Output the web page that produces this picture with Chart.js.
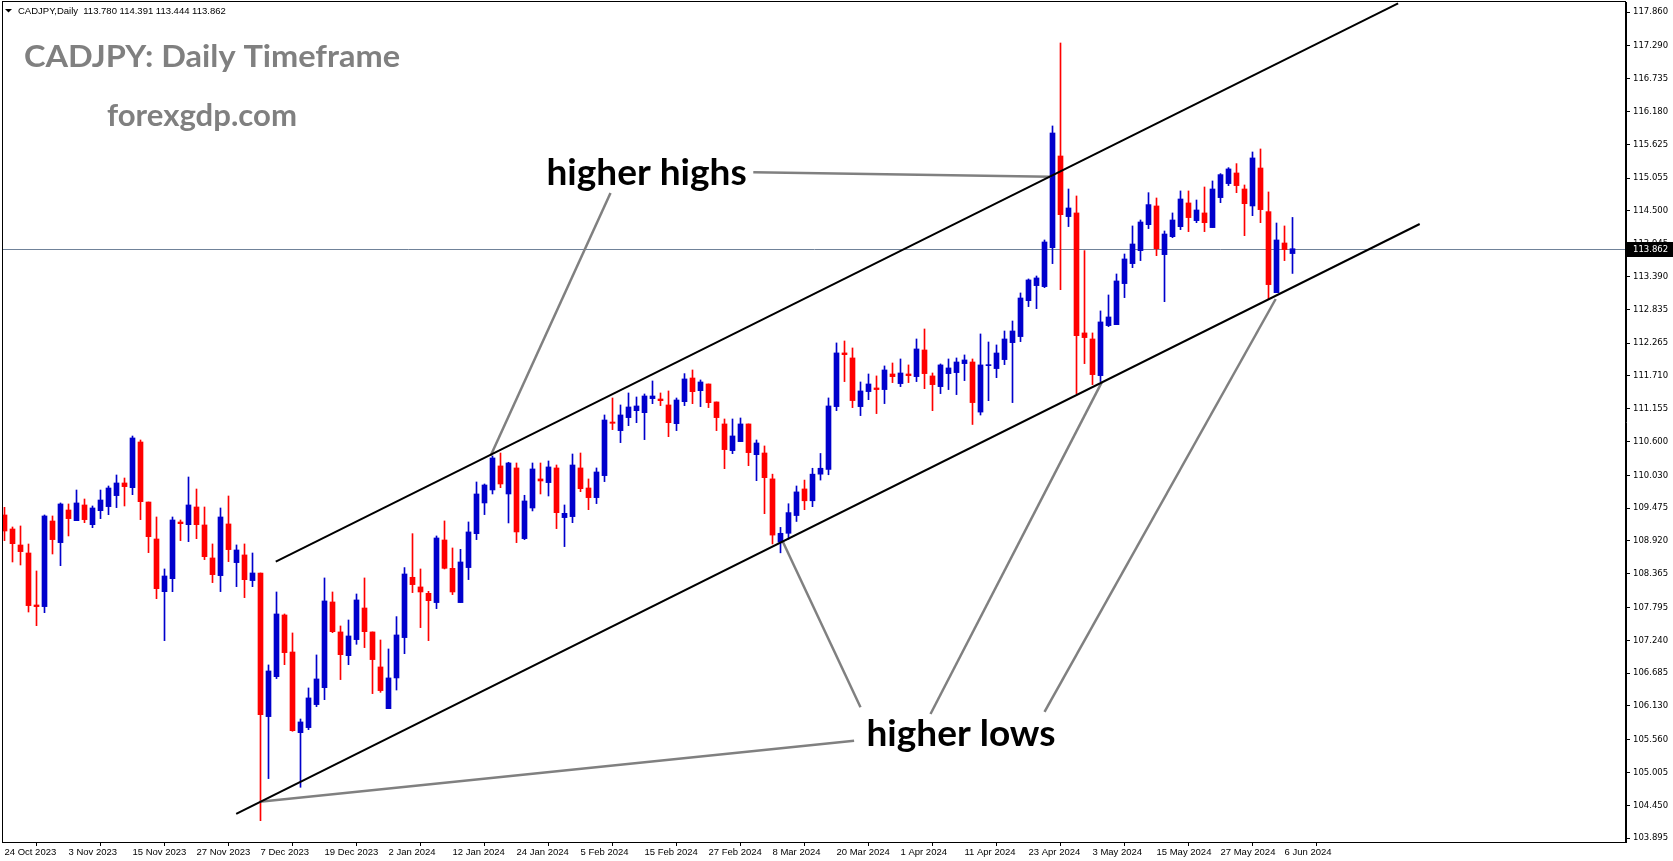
<!DOCTYPE html>
<html>
<head>
<meta charset="utf-8">
<title>CADJPY Daily</title>
<script src="https://cdn.jsdelivr.net/npm/chart.js@4.4.1/dist/chart.umd.min.js"></script>
<style>
  html, body { margin: 0; padding: 0; background: #fff; }
  #wrap { width: 1673px; height: 861px; }
</style>
</head>
<body>
<div id="wrap"><canvas id="chart" width="1673" height="861"></canvas></div>
<script>
// daily candles, 24 Oct 2023 .. 7 Jun 2024 (one entry per bar)
const opens = [
  109.360, 109.123, 108.852, 108.717, 107.838, 107.810, 109.258, 108.892, 109.444, 109.264,
  109.529, 109.196, 109.433, 109.501, 109.687, 109.901, 109.822, 110.594, 109.579, 108.954,
  108.063, 108.283, 109.241, 109.196, 109.495, 109.191, 108.633, 108.334, 109.208, 108.554,
  108.684, 108.250, 108.379, 105.950, 106.626, 107.669, 107.043, 105.679, 105.764, 106.153,
  106.440, 107.889, 107.382, 106.981, 107.252, 107.787, 107.382, 106.790, 106.085, 106.604,
  107.286, 108.306, 108.143, 108.035, 107.878, 108.937, 108.458, 107.878, 108.470, 109.044,
  109.563, 109.783, 110.189, 109.715, 110.155, 108.960, 109.478, 109.969, 109.907, 110.155,
  109.315, 109.332, 110.155, 109.816, 109.653, 110.025, 110.932, 110.786, 111.006, 111.124,
  111.090, 111.327, 111.321, 111.220, 110.904, 111.276, 111.676, 111.462, 111.575, 111.271,
  110.899, 110.448, 110.600, 110.899, 110.380, 110.408, 109.970, 108.900, 109.050, 109.350,
  109.800, 109.600, 110.050, 110.130, 111.192, 112.100, 112.015, 111.192, 111.446, 111.508,
  111.480, 111.744, 111.581, 111.744, 111.699, 112.150, 111.711, 111.530, 111.750, 111.767,
  111.919, 111.947, 111.100, 111.885, 111.835, 111.987, 112.274, 112.376, 112.984, 113.238,
  113.221, 113.880, 115.430, 114.405, 114.467, 112.438, 112.336, 111.716, 112.562, 112.578,
  113.272, 113.610, 113.830, 114.269, 114.585, 113.762, 114.066, 114.235, 114.636, 114.337,
  114.467, 114.219, 114.726, 114.963, 115.143, 114.872, 114.585, 115.227, 114.489, 113.119,
  113.959, 113.780
];
const highs = [
  109.489, 109.157, 109.174, 108.869, 108.413, 109.360, 109.343, 109.563, 109.546, 109.782,
  109.630, 109.512, 109.782, 109.850, 110.036, 109.985, 110.695, 110.628, 109.579, 109.326,
  108.447, 109.326, 109.275, 110.002, 109.799, 109.495, 108.870, 109.478, 109.681, 108.853,
  108.870, 108.717, 108.379, 106.824, 108.058, 107.686, 107.365, 105.910, 106.435, 106.993,
  108.295, 108.058, 107.483, 107.584, 108.024, 108.295, 107.382, 107.246, 107.094, 107.641,
  108.470, 109.044, 108.447, 108.069, 109.005, 109.259, 108.802, 108.779, 109.242, 109.918,
  109.884, 110.358, 110.408, 110.251, 110.239, 109.693, 110.239, 110.239, 110.273, 110.205,
  109.529, 110.391, 110.408, 109.969, 110.155, 111.051, 111.338, 111.220, 111.423, 111.355,
  111.406, 111.626, 111.423, 111.457, 111.338, 111.750, 111.812, 111.643, 111.575, 111.271,
  110.983, 110.983, 111.000, 110.899, 110.628, 110.527, 110.050, 109.150, 109.550, 109.850,
  109.950, 110.150, 110.400, 111.339, 112.269, 112.302, 112.184, 111.609, 111.744, 111.711,
  111.880, 111.930, 111.998, 111.897, 112.336, 112.505, 111.761, 111.914, 111.998, 112.015,
  112.066, 111.998, 112.421, 112.285, 112.235, 112.471, 112.640, 113.114, 113.351, 113.401,
  114.010, 115.938, 117.341, 114.872, 114.754, 113.830, 112.438, 112.810, 113.080, 113.435,
  113.773, 114.247, 114.348, 114.810, 114.720, 114.162, 114.467, 114.839, 114.839, 114.686,
  114.906, 115.008, 115.132, 115.233, 115.301, 114.940, 115.498, 115.549, 114.822, 114.297,
  114.247, 114.391
];
const lows = [
  108.926, 108.565, 108.514, 107.719, 107.488, 107.708, 108.700, 108.503, 109.005, 109.264,
  109.230, 109.145, 109.298, 109.365, 109.484, 109.512, 109.703, 109.281, 108.723, 107.945,
  107.235, 108.063, 108.926, 108.909, 108.959, 108.605, 108.216, 108.064, 108.571, 108.148,
  107.962, 108.148, 104.191, 104.902, 106.593, 106.829, 105.702, 104.755, 105.730, 106.119,
  106.237, 107.370, 106.576, 106.829, 107.173, 107.117, 106.339, 106.361, 106.085, 106.400,
  107.015, 108.047, 107.455, 107.235, 107.776, 108.447, 108.013, 107.878, 108.267, 108.943,
  109.366, 109.715, 109.822, 109.225, 108.892, 108.943, 109.428, 109.715, 109.681, 109.129,
  108.825, 109.230, 109.754, 109.450, 109.552, 109.924, 110.803, 110.583, 110.870, 110.921,
  110.634, 111.242, 111.209, 110.684, 110.786, 111.209, 111.242, 111.192, 111.175, 110.786,
  110.143, 110.397, 110.600, 110.194, 109.940, 109.382, 108.870, 108.720, 108.950, 109.250,
  109.450, 109.500, 109.950, 110.040, 111.124, 111.615, 111.175, 111.040, 111.310, 111.074,
  111.243, 111.598, 111.530, 111.598, 111.615, 111.496, 111.124, 111.412, 111.480, 111.395,
  111.632, 110.890, 111.050, 111.293, 111.682, 111.902, 111.260, 112.291, 112.883, 112.849,
  113.204, 113.610, 113.170, 114.236, 111.412, 111.919, 111.564, 111.615, 112.545, 112.578,
  113.035, 113.542, 113.661, 114.202, 113.745, 112.967, 114.049, 114.185, 114.151, 114.303,
  114.151, 114.219, 114.641, 114.929, 114.810, 114.083, 114.421, 114.303, 113.001, 113.119,
  113.661, 113.444
];
const closes = [
  109.089, 108.875, 108.740, 107.827, 107.810, 109.343, 108.943, 109.546, 109.298, 109.563,
  109.281, 109.478, 109.613, 109.816, 109.901, 109.839, 110.662, 109.585, 108.993, 108.114,
  108.328, 109.275, 109.213, 109.529, 109.196, 108.655, 108.351, 109.326, 108.774, 108.768,
  108.266, 108.379, 105.984, 106.722, 107.686, 107.032, 105.713, 105.860, 106.266, 106.587,
  107.906, 107.387, 106.998, 107.314, 107.923, 107.387, 106.914, 106.390, 106.604, 107.331,
  108.362, 108.182, 108.058, 107.911, 108.971, 108.458, 108.058, 108.565, 109.073, 109.715,
  109.867, 110.324, 109.884, 110.239, 109.073, 109.597, 110.138, 109.935, 110.172, 109.399,
  109.388, 110.205, 109.805, 109.653, 110.087, 110.966, 110.910, 111.051, 111.186, 111.203,
  111.372, 111.372, 111.293, 110.921, 111.304, 111.660, 111.445, 111.609, 111.259, 111.006,
  110.465, 110.696, 110.899, 110.414, 110.577, 109.991, 109.020, 109.050, 109.400, 109.750,
  109.600, 110.050, 110.150, 111.203, 112.100, 112.071, 111.294, 111.457, 111.575, 111.480,
  111.812, 111.699, 111.761, 111.716, 112.167, 111.750, 111.564, 111.897, 111.846, 111.947,
  111.981, 111.260, 111.897, 111.902, 112.099, 112.336, 112.471, 113.029, 113.334, 113.368,
  113.976, 115.819, 114.438, 114.551, 112.392, 112.359, 111.733, 112.624, 112.708, 113.317,
  113.689, 113.942, 114.314, 114.608, 113.863, 114.111, 114.348, 114.703, 114.388, 114.517,
  114.303, 114.872, 115.115, 115.211, 114.929, 114.624, 115.397, 114.523, 113.255, 114.010,
  113.847, 113.862
];

// axis labels: a date every 8 bars, fixed price grid of the terminal
const dateTicks = [
  '24 Oct 2023', '3 Nov 2023', '15 Nov 2023', '27 Nov 2023', '7 Dec 2023', '19 Dec 2023',
  '2 Jan 2024', '12 Jan 2024', '24 Jan 2024', '5 Feb 2024', '15 Feb 2024', '27 Feb 2024',
  '8 Mar 2024', '20 Mar 2024', '1 Apr 2024', '11 Apr 2024', '23 Apr 2024', '3 May 2024',
  '15 May 2024', '27 May 2024', '6 Jun 2024'
];
const TICK_STEP = 8;
const priceTicks = [
  117.860, 117.290, 116.735, 116.180, 115.625, 115.055, 114.500, 113.945, 113.390,
  112.835, 112.265, 111.710, 111.155, 110.600, 110.030, 109.475, 108.920, 108.365,
  107.795, 107.240, 106.685, 106.130, 105.560, 105.005, 104.450, 103.895
];

// drawn objects, as [bar, price] pairs
const channelLines = [
  [[33.91, 108.570], [174.2, 118.009]],
  [[28.96, 104.304], [176.9, 114.280]]
];
const pointerLines = [
  [[75.75, 114.805], [60.75, 110.357]],
  [[93.6, 115.155], [130.75, 115.080]],
  [[31.91, 104.512], [106.2, 105.542]],
  [[97.25, 108.920], [107.0, 106.107]],
  [[137.2, 111.614], [115.75, 105.995]],
  [[158.9, 113.012], [130.0, 106.029]]
];
const notes = [
  { text: 'higher highs', bar: 67.75, price: 114.94 },
  { text: 'higher lows', bar: 107.75, price: 105.454 }
];

const UP = '#0000cc';
const DOWN = '#ff0000';
const candleColor = i => closes[i] >= opens[i] ? UP : DOWN;

const bodies = opens.map((o, i) => ({ x: i, y: [o, closes[i]] }));
const wicks = highs.map((h, i) => ({ x: i, y: [lows[i], h] }));

// text squeezed/stretched to a given width (terminal font is narrower than Lato)
function fitText(ctx, text, x, y, width) {
  const k = width / ctx.measureText(text).width;
  ctx.save();
  ctx.translate(x, y);
  ctx.scale(k, 1);
  ctx.fillText(text, 0, 0);
  ctx.restore();
}

const overlay = {
  id: 'overlay',
  beforeDatasetsDraw(chart) {
    const { ctx, chartArea: a, scales: { y } } = chart;
    const py = Math.round(y.getPixelForValue(closes[closes.length - 1])) + 0.5;
    ctx.save();
    ctx.strokeStyle = '#708299';
    ctx.lineWidth = 1;
    ctx.beginPath();
    ctx.moveTo(a.left, py);
    ctx.lineTo(a.right, py);
    ctx.stroke();
    ctx.restore();
  },
  afterDatasetsDraw(chart) {
    const { ctx, chartArea: a, scales: { x, y } } = chart;
    const seg = (p, q) => {
      ctx.beginPath();
      ctx.moveTo(x.getPixelForValue(p[0]), y.getPixelForValue(p[1]));
      ctx.lineTo(x.getPixelForValue(q[0]), y.getPixelForValue(q[1]));
      ctx.stroke();
    };
    ctx.save();
    ctx.beginPath();
    ctx.rect(a.left, a.top, a.right - a.left, a.bottom - a.top);
    ctx.clip();

    ctx.strokeStyle = '#808080';
    ctx.lineWidth = 2.5;
    pointerLines.forEach(l => seg(l[0], l[1]));

    ctx.strokeStyle = '#000';
    ctx.lineWidth = 2;
    channelLines.forEach(l => seg(l[0], l[1]));

    ctx.fillStyle = '#000';
    ctx.font = 'bold 37px Lato';
    ctx.textBaseline = 'alphabetic';
    notes.forEach(n => ctx.fillText(n.text, x.getPixelForValue(n.bar), y.getPixelForValue(n.price)));
    ctx.restore();
  },
  afterDraw(chart) {
    const { ctx, chartArea: a, scales: { y } } = chart;
    ctx.save();
    // frame
    ctx.strokeStyle = '#000';
    ctx.lineWidth = 1;
    ctx.strokeRect(a.left - 0.5, a.top - 0.5, a.right - a.left, a.bottom - a.top + 1);

    // header
    ctx.fillStyle = '#000';
    ctx.beginPath();
    ctx.moveTo(5, 9); ctx.lineTo(12, 9); ctx.lineTo(8.5, 12.5); ctx.closePath();
    ctx.fill();
    ctx.font = '9.5px "Liberation Sans"';
    ctx.textBaseline = 'alphabetic';
    const last = closes.length - 1;
    ctx.fillText('CADJPY,Daily  ' + [opens[last], highs[last], lows[last], closes[last]].map(v => v.toFixed(3)).join(' '), 18, 14);

    // titles
    ctx.fillStyle = '#808080';
    ctx.font = 'bold 31px Lato';
    fitText(ctx, 'CADJPY: Daily Timeframe', 24, 67, 376);
    fitText(ctx, 'forexgdp.com', 107, 126, 190);

    // last price tag
    const py = Math.round(y.getPixelForValue(closes[last]));
    ctx.fillStyle = '#000';
    ctx.fillRect(a.right + 1, py - 7, 46, 15);
    ctx.fillStyle = '#fff';
    ctx.font = '8.5px "DejaVu Sans"';
    ctx.textBaseline = 'middle';
    ctx.fillText(closes[last].toFixed(3), a.right + 7, py + 1);
    ctx.restore();
  }
};

new Chart(document.getElementById('chart'), {
  type: 'bar',
  data: {
    datasets: [
      {
        data: bodies,
        backgroundColor: c => candleColor(c.dataIndex),
        barThickness: 5,
        minBarLength: 1,
        grouped: false,
        order: 0
      },
      {
        data: wicks,
        backgroundColor: c => candleColor(c.dataIndex),
        barThickness: 1,
        grouped: false,
        order: 1
      }
    ]
  },
  options: {
    responsive: false,
    animation: false,
    devicePixelRatio: 1,
    layout: { padding: { left: 3, top: 2, right: 0, bottom: 0 } },
    plugins: { legend: { display: false }, tooltip: { enabled: false } },
    scales: {
      x: {
        type: 'linear',
        min: -0.1875,
        max: 202.6875,
        offset: false,
        grid: { display: true, drawOnChartArea: false, drawTicks: true, tickLength: 4, color: '#000' },
        border: { display: true, color: '#000' },
        ticks: {
          autoSkip: false,
          maxRotation: 0,
          align: 'start',
          padding: 1,
          color: '#000',
          font: { family: 'Liberation Sans', size: 9.5 },
          callback: v => dateTicks[Math.round(v / TICK_STEP)]
        },
        afterBuildTicks: s => { s.ticks = dateTicks.map((_, k) => ({ value: k * TICK_STEP })); },
        afterFit: s => { s.height = 19; s.paddingLeft = 0; s.paddingRight = 0; }
      },
      y: {
        position: 'right',
        min: 103.830,
        max: 118.034,
        grid: { display: true, drawOnChartArea: false, drawTicks: true, tickLength: 4, color: '#000' },
        border: { display: true, color: '#000' },
        ticks: {
          padding: 3,
          color: '#000',
          font: { family: 'DejaVu Sans', size: 8.5 },
          callback: v => v.toFixed(3)
        },
        afterBuildTicks: s => { s.ticks = priceTicks.map(v => ({ value: v })); },
        afterFit: s => { s.width = 47; s.paddingTop = 0; s.paddingBottom = 0; }
      }
    }
  },
  plugins: [overlay]
});
</script>
</body>
</html>
